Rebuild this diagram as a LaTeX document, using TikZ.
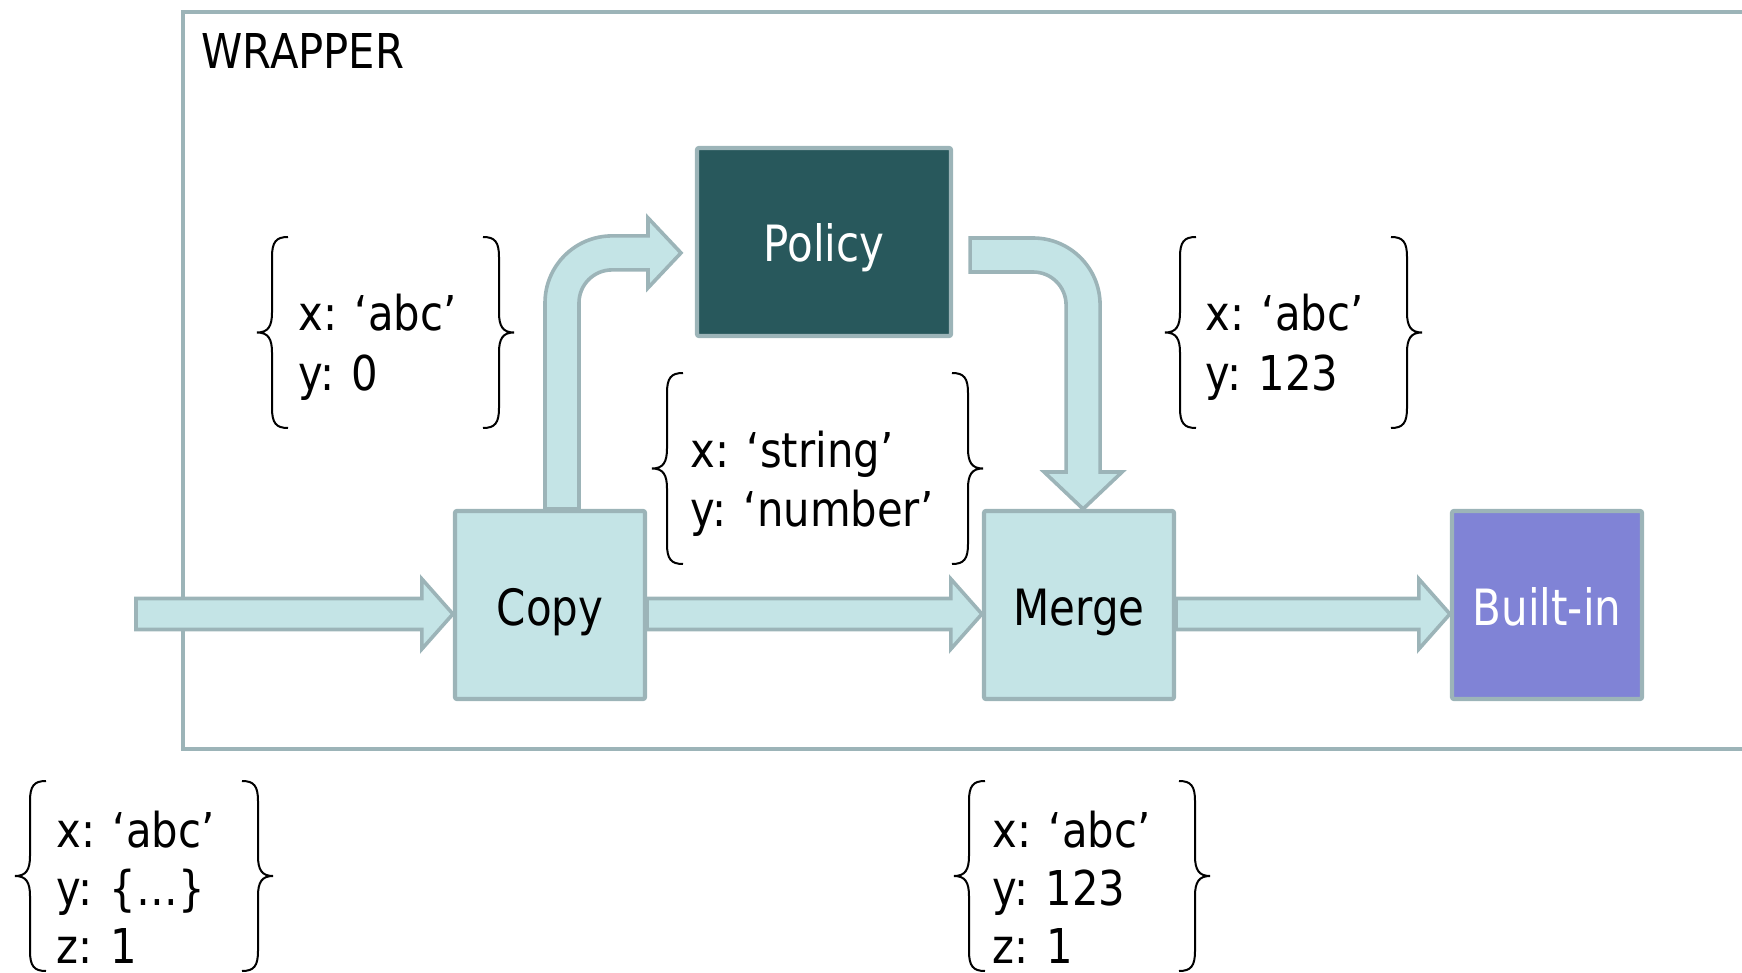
\documentclass[tikz,border=0pt]{standalone}
\usepackage{fontspec}
\setmainfont{DejaVu Sans}[FakeStretch=0.87]
\newfontfamily\boxfont{DejaVu Sans}[FakeStretch=0.84]
\usetikzlibrary{calc}
\definecolor{edge}{RGB}{156,180,184}
\definecolor{lightfill}{RGB}{196,228,230}
\definecolor{policyfill}{RGB}{40,88,92}
\definecolor{builtfill}{RGB}{128,131,214}
\pgfdeclarelayer{bg}
\pgfsetlayers{bg,main}
\tikzset{
  box/.style={draw=edge, line width=2.1pt, rounded corners=1pt, minimum width=95pt, minimum height=94pt, inner sep=0pt, text height=20pt, text depth=0pt, font=\boxfont\fontsize{25}{30}\selectfont},
  barrow/.style={draw=edge, fill=lightfill, line width=1.8pt, line join=miter},
  brc/.style={draw=black, line width=1pt},
  lbl/.style={anchor=base west, inner sep=0pt, font=\fontsize{24}{30}\selectfont},
  wrap/.style={draw=edge, line width=2.25pt}
}
\newcommand\harrow[2]{\draw[barrow] let \p1=(#1), \p2=(#2) in (\x1,\y1+7.75pt) -- (\x2-15.5pt,\y1+7.75pt) -- (\x2-15.5pt,\y1+17.5pt) -- (\x2,\y1) -- (\x2-15.5pt,\y1-17.5pt) -- (\x2-15.5pt,\y1-7.75pt) -- (\x1,\y1-7.75pt) -- cycle;}
% #1 x of vertical line, #2 direction (1 = left brace, -1 = right brace), #3 top, #4 bottom, #5 middle
\newcommand\onebrace[5]{%
 \draw[brc] ({#1+#2*16},#3) .. controls ({#1+#2*4},#3) and (#1,{#3+5}) .. (#1,{#3+20})
   -- (#1,{#5-20}) .. controls (#1,{#5-6}) and ({#1-#2*4},#5) .. ({#1-#2*15},#5)
   .. controls ({#1-#2*4},#5) and (#1,{#5+6}) .. (#1,{#5+20})
   -- (#1,{#4-20}) .. controls (#1,{#4-5}) and ({#1+#2*4},#4) .. ({#1+#2*16},#4);}
\newcommand\curly[5]{\onebrace{#1}{1}{#3}{#4}{#5}\onebrace{#2}{-1}{#3}{#4}{#5}}
\begin{document}
\begin{tikzpicture}[x=0.5pt,y=-0.5pt]
\useasboundingbox (0,0) rectangle (1742,973);
\clip (0,0) rectangle (1742,973);
% boxes
\node[box, fill=lightfill] (copy) at (550,605) {Copy};
\node[box, fill=lightfill] (merge) at (1079,605) {Merge};
\node[box, fill=builtfill, text=white] (builtin) at (1547,605) {Built-in};
\node[box, fill=policyfill, text=white, minimum width=127pt] (policy) at (824,242) {Policy};
\node[lbl] (wraplbl) at (201,69) {WRAPPER};
\begin{pgfonlayer}{bg}
\draw[wrap] (183,12) rectangle (1800,749);
\coordinate (in) at (136,614);
\coordinate (copyin) at ($(copy.west)+(0,9)$);
\coordinate (copyout) at ($(copy.east)+(0,9)$);
\coordinate (mergein) at ($(merge.west)+(0,9)$);
\coordinate (mergeout) at ($(merge.east)+(0,9)$);
\coordinate (builtinin) at ($(builtin.west)+(0,9)$);
\harrow{in}{copyin}
\harrow{copyout}{mergein}
\harrow{mergeout}{builtinin}
% Copy -> Policy
\draw[barrow] ($(copy.north)+(-5,0)$) -- ++(0,-206) arc[start angle=180,end angle=90,radius=33.5pt] -- ++(36,0) -- ++(0,-18) -- ++(33,35) -- ++(-33,35) -- ++(0,-18) -- ++(-36,0) arc[start angle=90,end angle=180,radius=16.5pt] -- ++(0,206) -- cycle;
% Policy -> Merge
\draw[barrow] ($(policy.east)+(17,-4)$) -- ++(63,0) arc[start angle=90,end angle=0,radius=33.5pt] -- ++(0,167) -- ++(22,0) -- ++(-39,37) -- ++(-39,-37) -- ++(22,0) -- ++(0,-167) arc[start angle=0,end angle=90,radius=16.5pt] -- ++(-63,0) -- cycle;
\end{pgfonlayer}
% braces
\curly{272}{499}{237}{428}{332.5}
\node[lbl] (b1a) at (298,331) {x: ‘abc’};
\node[lbl] (b1b) at (298,391) {y: 0};
\curly{667}{968}{373}{564}{468.5}
\node[lbl] (b2a) at (690,467) {x: ‘string’};
\node[lbl] (b2b) at (690,526) {y: ‘number’};
\curly{1180}{1407}{237}{428}{332.5}
\node[lbl] (b3a) at (1205,331) {x: ‘abc’};
\node[lbl] (b3b) at (1205,391) {y: 123};
\curly{30}{258}{781}{971}{876}
\node[lbl] (b4a) at (56,847) {x: ‘abc’};
\node[lbl] (b4b) at (56,905) {y: \{…\}};
\node[lbl] (b4c) at (56,963) {z: 1};
\curly{969}{1195}{781}{971}{876}
\node[lbl] (b5a) at (992,847) {x: ‘abc’};
\node[lbl] (b5b) at (992,905) {y: 123};
\node[lbl] (b5c) at (992,963) {z: 1};
\end{tikzpicture}
\end{document}
